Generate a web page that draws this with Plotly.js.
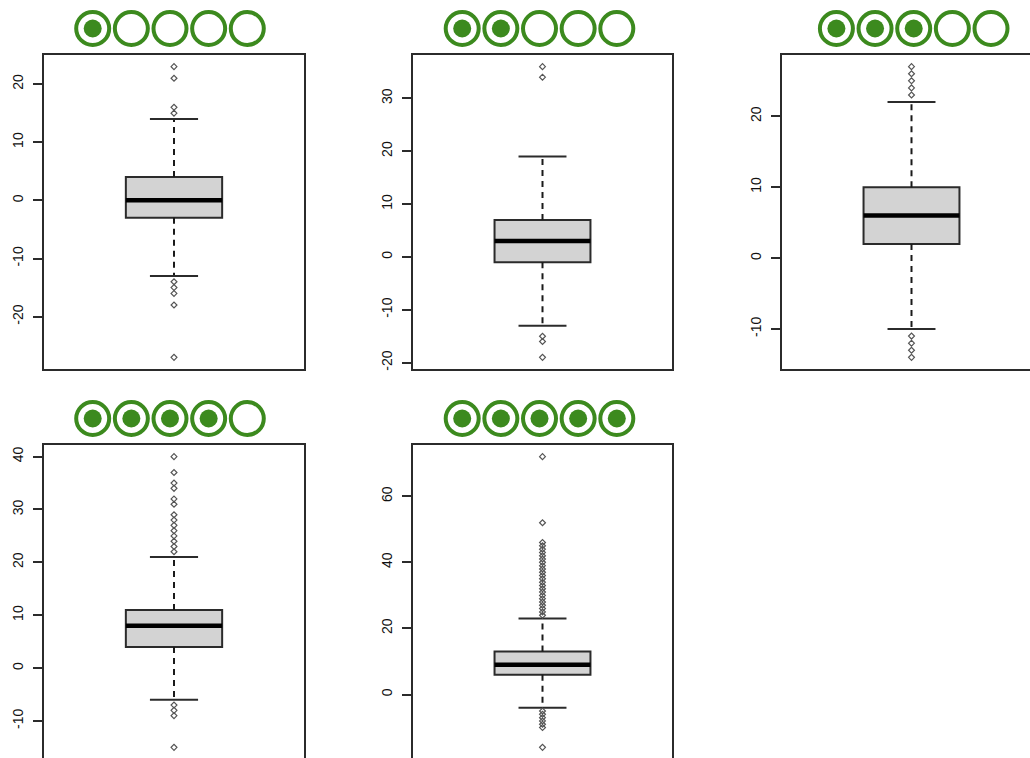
<!DOCTYPE html>
<html>
<head>
<meta charset="utf-8">
<script src="https://cdn.plot.ly/plotly-3.0.1.min.js"></script>
<style>
html, body { margin: 0; padding: 0; overflow: hidden; background: #fff; }
#chart { width: 1060px; height: 780px; }
</style>
</head>
<body>
<div id="chart"></div>
<script>
// ---- data ----
const scores = [1, 2, 3, 4, 5];
const ratingSlots = [1, 2, 3, 4, 5];
const q1 = [-3, -1, 2, 4, 6];
const medians = [0, 3, 6, 8, 9];
const q3 = [4, 7, 10, 11, 13];
const lowerWhisker = [-13, -13, -10, -6, -4];
const upperWhisker = [14, 19, 22, 21, 23];
const outliers1 = [23, 21, 16, 15, -14, -15, -16, -18, -27];
const outliers2 = [36, 34, -15, -16, -19];
const outliers3 = [27, 26, 25, 24, 23, -11, -12, -13, -14];
const outliers4 = [40, 37, 35, 34, 32, 31, 29, 28, 27, 26, 25, 24, 23, 22, -7, -8, -9, -15];
const outliers5 = [72, 52, 46, 45, 44, 43, 42, 41, 40, 39, 38, 37, 36, 35, 34, 33, 32, 31, 30, 29, 28, 27, 26, 25, 24,
                   -5, -6, -7, -8, -9, -10, -16];
const outliers = [outliers1, outliers2, outliers3, outliers4, outliers5];
const yTicks1 = [-20, -10, 0, 10, 20];
const yTicks2 = [-20, -10, 0, 10, 20, 30];
const yTicks3 = [-10, 0, 10, 20];
const yTicks4 = [-10, 0, 10, 20, 30, 40];
const yTicks5 = [0, 20, 40, 60];
const yTicks = [yTicks1, yTicks2, yTicks3, yTicks4, yTicks5];

// ---- layout geometry (pixels) ----
const W = 1060, H = 780;
const colsPx = [[44, 304], [413, 672], [782, 1041]];
const rowsPx = [[55, 369], [445, 759]];
const iconCenters = [170, 539.5, 913.7];
const iconRowY = [28.5, 418.5];
const iconStep = 38.65;
const boxWidth = 0.4, stapleHalf = 0.1;
const green = '#3c8a1e';
const ink = '#2b2b2b';

const fx = px => px / W;
const fy = px => 1 - px / H;

const traces = [];
const layout = {
  width: W, height: H,
  margin: {l: 0, r: 0, t: 0, b: 0},
  paper_bgcolor: '#fff', plot_bgcolor: '#fff',
  showlegend: false,
  font: {family: 'Liberation Sans, Arial, sans-serif', color: '#111'}
};

for (let i = 0; i < 5; i++) {
  const col = i % 3, row = Math.floor(i / 3);
  const xa = 'x' + (i + 1), ya = 'y' + (i + 1);
  const xi = 'x' + (i + 6), yi = 'y' + (i + 6);
  const all = [lowerWhisker[i], upperWhisker[i]].concat(outliers[i]);
  const lo = Math.min(...all), hi = Math.max(...all);
  const pad = 0.04 * (hi - lo);

  layout['xaxis' + (i + 1)] = {
    domain: [fx(colsPx[col][0]), fx(colsPx[col][1])],
    range: [0.46, 1.54], anchor: ya,
    showline: true, mirror: true, linecolor: ink, linewidth: 2,
    showticklabels: false, ticks: '', showgrid: false, zeroline: false, fixedrange: true
  };
  layout['yaxis' + (i + 1)] = {
    domain: [fy(rowsPx[row][1]), fy(rowsPx[row][0])],
    range: [lo - pad, hi + pad], anchor: xa,
    showline: true, mirror: true, linecolor: ink, linewidth: 2,
    tickvals: yTicks[i], ticktext: yTicks[i].map(v => String(v)),
    ticks: 'outside', ticklen: 9, tickwidth: 2, tickcolor: ink,
    tickangle: -90, ticklabelstandoff: 4,
    tickfont: {family: 'Liberation Sans, Arial, sans-serif', size: 14, color: '#111'},
    showgrid: false, zeroline: false, fixedrange: true
  };
  // icon row axes
  const ic = iconCenters[col];
  layout['xaxis' + (i + 6)] = {
    domain: [fx(ic - 2.5 * iconStep), fx(ic + 2.5 * iconStep)],
    range: [0.5, 5.5], anchor: yi, visible: false, fixedrange: true
  };
  layout['yaxis' + (i + 6)] = {
    domain: [fy(iconRowY[row] + 20), fy(iconRowY[row] - 20)],
    range: [0, 1], anchor: xi, visible: false, fixedrange: true
  };

  // box body
  traces.push({
    type: 'box', xaxis: xa, yaxis: ya,
    x: [1], q1: [q1[i]], median: [medians[i]], q3: [q3[i]],
    lowerfence: [q1[i]], upperfence: [q3[i]],
    width: boxWidth, whiskerwidth: 0, boxpoints: false,
    fillcolor: '#d3d3d3', line: {color: ink, width: 2}, hoverinfo: 'skip'
  });
  // whiskers (dashed)
  traces.push({
    type: 'scatter', mode: 'lines', xaxis: xa, yaxis: ya,
    x: [1, 1, null, 1, 1],
    y: [q3[i], upperWhisker[i], null, q1[i], lowerWhisker[i]],
    line: {color: '#1a1a1a', width: 2, dash: '6px,5px'}, hoverinfo: 'skip'
  });
  // staples
  traces.push({
    type: 'scatter', mode: 'lines', xaxis: xa, yaxis: ya,
    x: [1 - stapleHalf, 1 + stapleHalf, null, 1 - stapleHalf, 1 + stapleHalf],
    y: [upperWhisker[i], upperWhisker[i], null, lowerWhisker[i], lowerWhisker[i]],
    line: {color: ink, width: 2}, hoverinfo: 'skip'
  });
  // median
  traces.push({
    type: 'scatter', mode: 'lines', xaxis: xa, yaxis: ya,
    x: [1 - boxWidth / 2, 1 + boxWidth / 2], y: [medians[i], medians[i]],
    line: {color: '#000', width: 4.5}, hoverinfo: 'skip'
  });
  // outliers
  traces.push({
    type: 'scatter', mode: 'markers', xaxis: xa, yaxis: ya,
    x: outliers[i].map(() => 1), y: outliers[i],
    marker: {symbol: 'diamond-open', size: 4.5, color: '#555', line: {width: 1.2, color: '#555'}},
    hoverinfo: 'skip'
  });
  // rating rings
  traces.push({
    type: 'scatter', mode: 'markers', xaxis: xi, yaxis: yi, cliponaxis: false,
    x: ratingSlots, y: ratingSlots.map(() => 0.5),
    marker: {symbol: 'circle', size: 33, color: '#fff', line: {color: green, width: 4}},
    hoverinfo: 'skip'
  });
  // filled dots
  const filled = ratingSlots.filter(r => r <= scores[i]);
  traces.push({
    type: 'scatter', mode: 'markers', xaxis: xi, yaxis: yi, cliponaxis: false,
    x: filled, y: filled.map(() => 0.5),
    marker: {symbol: 'circle', size: 18, color: green, line: {width: 0}},
    hoverinfo: 'skip'
  });
}

Plotly.newPlot('chart', traces, layout, {displayModeBar: false, staticPlot: true});
</script>
</body>
</html>
